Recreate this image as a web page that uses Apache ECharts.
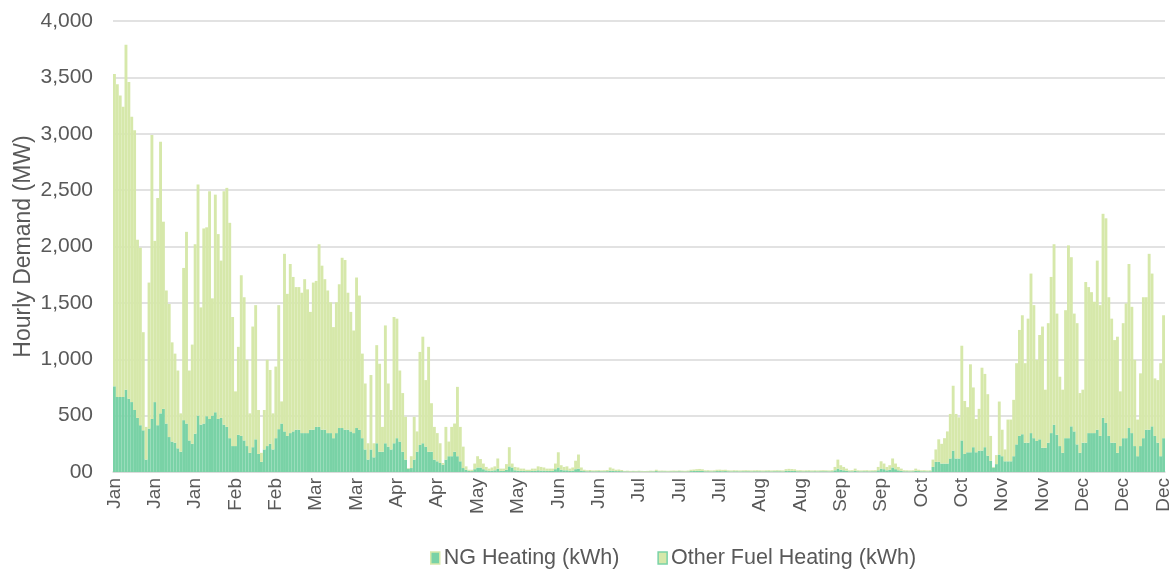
<!DOCTYPE html>
<html>
<head>
<meta charset="utf-8">
<title>Hourly heating demand</title>
<script src="https://cdn.jsdelivr.net/npm/echarts@6/dist/echarts.min.js"></script>
<style>
  html, body { margin: 0; padding: 0; background: #fff; }
  #chart { width: 1173px; height: 575px; }
</style>
</head>
<body>
<div id="chart"></div>
<script>
// month names and their day counts -> one category per day
const months = ['Jan', 'Feb', 'Mar', 'Apr', 'May', 'Jun', 'Jul', 'Aug', 'Sep', 'Oct', 'Nov', 'Dec'];
const monthDays = [31, 28, 31, 30, 31, 30, 31, 31, 30, 31, 30, 31];

// top of each stacked bar (NG + other fuel)
const stackTop = [
  3530, 3440, 3340, 3240, 3790, 3460, 3150, 3030, 2060, 1990,
  1240, 400, 1680, 2990, 2050, 2430, 2930, 2220, 1610, 1490,
  1150, 1050, 900, 520, 1810, 2130, 900, 1130, 2020, 2550,
  1460, 2160, 2170, 2490, 1540, 2460, 2110, 1875, 2490, 2520,
  2210, 1375, 715, 1110, 1745, 1550, 995, 520, 1290, 1480,
  550, 170, 550, 995, 905, 520, 935, 1480, 626, 1935,
  1580, 1845, 1730, 1640, 1640, 1590, 1710, 1620, 1420, 1680,
  1695, 2020, 1830, 1710, 1610, 1505, 1285, 1505, 1665, 1900,
  1880, 1590, 1420, 1255, 1725, 1565, 1050, 785, 255, 860,
  255, 1125, 960, 400, 1300, 785, 550, 1375, 1360, 900,
  700, 490, 35, 140, 490, 360, 1065, 1200, 815, 1110,
  610, 400, 345, 255, 80, 400, 270, 400, 430, 755,
  400, 225, 50, 20, 20, 75, 140, 115, 75, 45,
  30, 40, 50, 120, 30, 30, 70, 220, 75, 45,
  40, 30, 30, 20, 20, 30, 30, 50, 45, 40,
  30, 30, 30, 75, 175, 60, 45, 50, 30, 40,
  100, 155, 40, 20, 15, 18, 14, 15, 16, 14,
  15, 18, 40, 30, 20, 22, 18, 10, 12, 10,
  11, 10, 12, 10, 9, 10, 12, 11, 20, 12,
  13, 12, 11, 12, 13, 12, 14, 12, 11, 13,
  20, 22, 25, 27, 24, 15, 16, 14, 15, 20,
  21, 19, 20, 15, 14, 16, 15, 14, 15, 16,
  15, 14, 15, 16, 15, 14, 15, 16, 14, 15,
  16, 15, 14, 25, 28, 26, 24, 15, 16, 14,
  15, 16, 14, 15, 14, 15, 16, 15, 14, 16,
  45, 110, 60, 45, 30, 15, 16, 30, 15, 14,
  15, 16, 14, 15, 16, 45, 95, 75, 45, 60,
  120, 75, 45, 30, 16, 15, 14, 15, 30, 20,
  15, 16, 14, 15, 110, 200, 290, 250, 300, 360,
  515, 765, 515, 485, 1120, 630, 575, 955, 750, 470,
  560, 925, 870, 690, 320, 45, 150, 625, 375, 200,
  465, 465, 640, 965, 1260, 1390, 965, 1360, 1760, 1480,
  995, 1215, 1290, 730, 1320, 1730, 2020, 1405, 845, 730,
  1435, 2010, 1905, 1405, 1320, 700, 730, 1685, 1640, 1595,
  1510, 1875, 1480, 2290, 2250, 1550, 1360, 1170, 1200, 715,
  1320, 1495, 1845, 1465, 995, 465, 875, 1550, 1550, 1935,
  1760, 830, 815, 965, 1390
];

// NG heating part (bottom of the stack)
const ngHeating = [
  760, 665, 665, 665, 730, 650, 620, 550, 480, 415,
  370, 110, 385, 470, 620, 415, 520, 560, 430, 310,
  270, 260, 210, 180, 460, 430, 280, 250, 340, 500,
  420, 430, 495, 470, 500, 530, 470, 480, 420, 400,
  300, 230, 230, 330, 320, 280, 230, 170, 220, 290,
  160, 90, 200, 230, 250, 200, 300, 380, 430, 360,
  320, 345, 360, 375, 375, 345, 345, 345, 375, 375,
  400, 400, 375, 375, 345, 345, 300, 345, 390, 390,
  375, 375, 360, 345, 390, 375, 300, 200, 110, 200,
  130, 255, 180, 180, 255, 225, 200, 255, 300, 270,
  180, 110, 30, 35, 110, 180, 240, 255, 225, 180,
  180, 110, 95, 80, 65, 110, 140, 140, 180, 140,
  95, 35, 20, 10, 8, 25, 40, 40, 25, 15,
  10, 12, 15, 30, 10, 10, 20, 50, 40, 15,
  12, 10, 10, 8, 8, 10, 10, 15, 12, 12,
  10, 10, 10, 25, 40, 20, 15, 15, 10, 12,
  25, 30, 12, 8, 6, 7, 6, 6, 7, 6,
  6, 7, 12, 10, 8, 8, 7, 5, 5, 4,
  5, 4, 5, 4, 4, 4, 5, 5, 8, 5,
  5, 5, 4, 5, 5, 5, 6, 5, 4, 5,
  8, 9, 10, 10, 9, 6, 6, 5, 6, 8,
  8, 7, 8, 6, 5, 6, 6, 5, 6, 6,
  6, 5, 6, 6, 6, 5, 6, 6, 5, 6,
  6, 6, 5, 10, 11, 10, 9, 6, 6, 5,
  6, 6, 5, 6, 5, 6, 6, 6, 5, 6,
  15, 30, 20, 15, 10, 6, 6, 10, 6, 5,
  6, 6, 5, 6, 6, 15, 30, 25, 15, 20,
  40, 25, 15, 10, 6, 6, 5, 6, 10, 8,
  6, 6, 5, 6, 45, 90, 90, 75, 75, 75,
  120, 190, 120, 120, 280, 160, 175, 175, 220, 175,
  190, 190, 220, 145, 100, 40, 70, 155, 140, 95,
  95, 95, 140, 245, 320, 335, 260, 260, 345, 300,
  275, 290, 215, 215, 260, 345, 420, 330, 230, 170,
  300, 300, 405, 360, 245, 170, 260, 260, 345, 345,
  345, 375, 320, 480, 435, 320, 260, 260, 170, 230,
  300, 300, 390, 345, 230, 140, 230, 300, 375, 375,
  405, 320, 260, 140, 300
];

const yTicks = [0, 4000, 500]; // min, max, step

// categories: one per day, labelled with its month
let days = [];
months.forEach((m, i) => {
  for (let d = 0; d < monthDays[i]; d++) days.push(m);
});
// other fuel = what sits above NG in each bar
const otherFuel = stackTop.map((v, i) => v - ngHeating[i]);

const chart = echarts.init(document.getElementById('chart'));
const fontFamily = '"Liberation Sans", Arial, sans-serif';
const textColor = '#595959';

chart.setOption({
  animation: false,
  textStyle: { fontFamily: fontFamily },
  grid: { left: 113, right: 8, top: 21, bottom: 103, outerBoundsMode: 'none' },
  legend: {
    bottom: 1,
    left: 425,
    itemWidth: 9,
    itemHeight: 12,
    itemGap: 38,
    icon: 'rect',
    textStyle: { color: textColor, fontSize: 21.5, fontFamily: fontFamily, padding: [0, 0, 0, -1] },
    data: [
      { name: 'NG Heating (kWh)', itemStyle: { color: '#79d2a6', borderColor: '#d6e8aa', borderWidth: 1.5 } },
      { name: 'Other Fuel Heating (kWh)', itemStyle: { color: '#d6e8aa', borderColor: '#79d2a6', borderWidth: 1.5 } }
    ]
  },
  xAxis: {
    type: 'category',
    data: days,
    boundaryGap: true,
    axisLine: { show: true, lineStyle: { color: '#d9d9d9', width: 1.5 } },
    axisTick: { show: false },
    axisLabel: {
      interval: 13,
      rotate: 90,
      color: textColor,
      fontSize: 19,
      margin: 6,
      fontFamily: fontFamily
    }
  },
  yAxis: {
    type: 'value',
    min: yTicks[0],
    max: yTicks[1],
    interval: yTicks[2],
    name: 'Hourly Demand (MW)',
    nameLocation: 'middle',
    nameGap: 78,
    nameMoveOverlap: false,
    nameTextStyle: { color: textColor, fontSize: 23, fontFamily: fontFamily },
    axisLine: { show: false },
    axisTick: { show: false },
    splitLine: { lineStyle: { color: '#d9d9d9', width: 1.5 } },
    axisLabel: {
      color: textColor,
      fontSize: 21,
      margin: 20,
      fontFamily: fontFamily,
      formatter: v => (v === 0 ? '00' : v.toLocaleString('en-US'))
    }
  },
  series: [
    {
      name: 'NG Heating (kWh)',
      type: 'bar',
      stack: 'heat',
      data: ngHeating,
      barCategoryGap: '0%',
      itemStyle: { color: '#79d2a6' }
    },
    {
      name: 'Other Fuel Heating (kWh)',
      type: 'bar',
      stack: 'heat',
      data: otherFuel,
      barCategoryGap: '0%',
      itemStyle: { color: '#d6e8aa' }
    }
  ]
});
</script>
</body>
</html>
